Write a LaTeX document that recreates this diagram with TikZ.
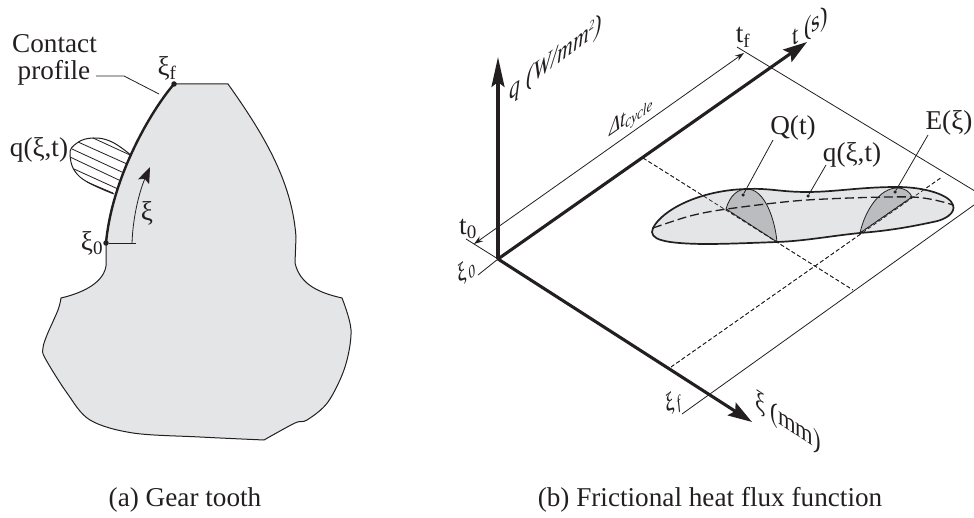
\documentclass[tikz,border=0pt]{standalone}
\usepackage{fontspec}
\setmainfont{Liberation Serif}
\usetikzlibrary{arrows.meta}
\definecolor{ink}{HTML}{231F20}
\definecolor{lightfill}{HTML}{E4E5E7}
\definecolor{darkfill}{HTML}{BBBCBF}
\tikzset{
  lab/.style={font=\fontsize{27.2}{30}\selectfont,text=ink,inner sep=0pt},
  smalllab/.style={font=\fontsize{23}{26}\selectfont,text=ink,inner sep=0pt},
  thinline/.style={draw=ink,line width=0.8pt},
  outline/.style={draw=ink,line width=1pt},
  axis/.style={draw=ink,line width=3.1pt},
  qhead/.style={-{Stealth[length=30pt,width=13pt,inset=5pt]}},
  bighead/.style={-{Stealth[length=24pt,width=15pt,inset=4pt]}},
  dimhead/.style={{Stealth[length=9pt,width=6pt]}-{Stealth[length=9pt,width=6pt]}},
  dashthin/.style={draw=ink,line width=0.7pt,dash pattern=on 4pt off 2.5pt},
  dot/.style={circle,fill=ink,inner sep=0pt,minimum size=5.5pt},
  smalldot/.style={circle,fill=ink,inner sep=0pt,minimum size=3.5pt},
}
\def\blobpath{(653,228) .. controls (662,210) and (700,190) .. (747,189) .. controls (770,188) and (780,192) .. (807,192) .. controls (835,192) and (860,187) .. (897,187) .. controls (925,187) and (950,195) .. (953,205) .. controls (956,213) and (945,220) .. (933,222) .. controls (905,228) and (885,231) .. (860,233) .. controls (830,236) and (805,241) .. (777,242) .. controls (750,243) and (725,244) .. (707,244) .. controls (690,244) and (670,243) .. (661,240) .. controls (654,238) and (650,234) .. (653,228) -- cycle}
\begin{document}
\begin{tikzpicture}[x=1pt,y=-1pt]
\useasboundingbox (0,0) rectangle (974,518);
% ---------- heat load (behind the tooth)
\draw[outline] plot[smooth,tension=.7] coordinates {(132,156) (112,142) (93,138) (77,143) (70,155) (80,177) (114,194)};
\draw[thinline] (93,138) -- (130,155);
\draw[thinline] (78,142) -- (127,164);
\draw[thinline] (72,149) -- (124,173);
\draw[thinline] (70,157) -- (121,181);
\draw[thinline] (74,169) -- (118,189);
\draw[thinline] (87,182) -- (113,193);
% ---------- gear tooth
\path[fill=lightfill,outline,line join=round]
  (174,84) .. controls (150,112) and (112,178) .. (106,243)
  -- (106,260) .. controls (108,275) and (95,290) .. (61,298)
  -- plot[smooth,tension=.55] coordinates {(61,298) (58,310) (47,335) (43,348) (45,358) (67,393) (90,420) (133,433) (200,437) (264,440)}
  -- plot[smooth,tension=.55] coordinates {(264,440) (295,423) (307,420) (328,402) (345,367) (351,330) (342,298)}
  .. controls (320,293) and (300,285) .. (295,263)
  -- (296,237) .. controls (292,180) and (262,132) .. (228,84)
  -- cycle;
\draw[draw=ink,line width=2.4pt] (174,84) .. controls (150,112) and (112,178) .. (106,243);
\node[dot] (xif) at (174,84) {};
\node[dot] (xi0) at (106,243) {};
% xi arrow
\coordinate (ticke) at (136,243);
\coordinate (arrs) at (132,243);
\coordinate (arre) at (150,167);
\draw[thinline] (xi0) -- (ticke);
\draw[thinline,-{Stealth[length=16pt,width=12pt,inset=3pt]}] (arrs) .. controls (133,215) and (140,190) .. (arre);
% contact leader
\coordinate (cp1) at (96,76);
\coordinate (cp2) at (124,76);
\coordinate (cp3) at (159,94);
\draw[thinline] (cp1) -- (cp2) -- (cp3);
\node[lab] (contact) at (54.5,44) {Contact};
\node[lab] (profile) at (54,73) {profile};
\node[lab] (xiftxt) at (167,68) {ξ\textsubscript{f}};
\node[lab] (xi0txt) at (92,243) {ξ\textsubscript{0}};
\node[lab] (qlabA) at (39,150) {q(ξ,t)};
\node[lab] (xilab) at (147,213) {ξ};
\node[lab] (capa) at (185,500) {(a) Gear tooth};
% ---------- heat flux
\coordinate (O) at (498,259);
\coordinate (qtip) at (498,57);
\coordinate (ttip) at (807,42);
\coordinate (xitip) at (752,422);
\coordinate (t0t) at (466,239);
\coordinate (xi0t) at (478,275);
\coordinate (tft) at (737,47);
\coordinate (tfe) at (974,190.5);
\coordinate (xift) at (682,414);
\coordinate (xife) at (974,205);
\coordinate (dim0) at (474,244);
\coordinate (dim1) at (744,53);
\coordinate (d1a) at (643,158);
\coordinate (d1b) at (853,290);
\coordinate (d2a) at (671,367);
\coordinate (d2b) at (942,177);
\draw[thinline] (t0t) -- (O) -- (xi0t);
\draw[thinline] (tft) -- (tfe);
\draw[thinline] (xift) -- (xife);
\draw[thinline,dimhead] (dim0) -- (dim1);
\draw[dashthin] (d1a) -- (d1b);
\draw[dashthin] (d2a) -- (d2b);
% blob
\path[fill=lightfill] \blobpath;
\draw[dashthin] (d1a) -- (d1b);
\draw[dashthin] (d2a) -- (d2b);
% sections
\draw[fill=darkfill,draw=ink,line width=0.8pt] (726,209) .. controls (730,195) and (738,189) .. (747,189) .. controls (765,189) and (775,220) .. (777,242) -- cycle;
\draw[fill=darkfill,draw=ink,line width=0.8pt] (860,233) .. controls (865,210) and (880,188) .. (897,188) .. controls (905,188) and (910,192) .. (912,197) -- cycle;
\draw[dashthin] (726,209) -- (777,242);
\draw[dashthin] (860,233) -- (912,197);
\draw[draw=ink,line width=1.7pt] \blobpath;
\draw[draw=ink,line width=1.3pt,dash pattern=on 9pt off 4pt]
  plot[smooth,tension=.5] coordinates {(653,228) (690,216) (727,209) (807,200) (912,197) (953,205)};
% leaders
\node[smalldot] (dq) at (743,195) {};
\node[smalldot] (dm) at (808,196) {};
\node[smalldot] (de) at (895,192) {};
\node[lab] (Qt) at (793,128) {Q(t)};
\node[lab] (qxt) at (852,155) {q(ξ,t)};
\node[lab] (Ex) at (949,123) {E(ξ)};
\coordinate (lq) at (773,140);
\coordinate (lm) at (826,165);
\coordinate (le) at (928,135);
\draw[thinline] (lq) -- (dq);
\draw[thinline] (lm) -- (dm);
\draw[thinline] (le) -- (de);
% axes
\draw[axis,qhead] (O) -- (qtip);
\draw[axis,bighead] (O) -- (ttip);
\draw[axis,bighead] (O) -- (xitip);
% labels
\node[lab,transform shape,cm={.80,.60,0,1,(0,0)}] (qaxis) at (556,59) {\itshape q (W/mm\textsuperscript{\fontsize{13}{13}\selectfont 2})};
\node[lab,transform shape,cm={.82,.57,0,1,(0,0)}] (taxis) at (810,28) {t (s)};
\node[lab,transform shape,cm={.83,-.55,0,1,(0,0)}] (xiaxis) at (788,423) {ξ (mm)};
\node[smalllab,transform shape,cm={.82,.57,0,1,(0,0)}] (dt) at (631,117) {\itshape Δt\textsubscript{cycle}};
\node[lab] (t0) at (468,229) {t\textsubscript{0}};
\node[lab] (tf) at (743,37) {t\textsubscript{f}};
\node[smalllab,transform shape,cm={.8,.6,-.25,1,(0,0)}] (xi0b) at (466,271) {\itshape ξ\kern2.5pt\textsubscript{0}};
\node[smalllab,transform shape,cm={.8,.6,-.25,1,(0,0)}] (xifb) at (673,404) {\itshape ξ\kern2.5pt\textsubscript{f}};
\node[lab] (capb) at (710,500) {(b) Frictional heat flux function};
\end{tikzpicture}
\end{document}
